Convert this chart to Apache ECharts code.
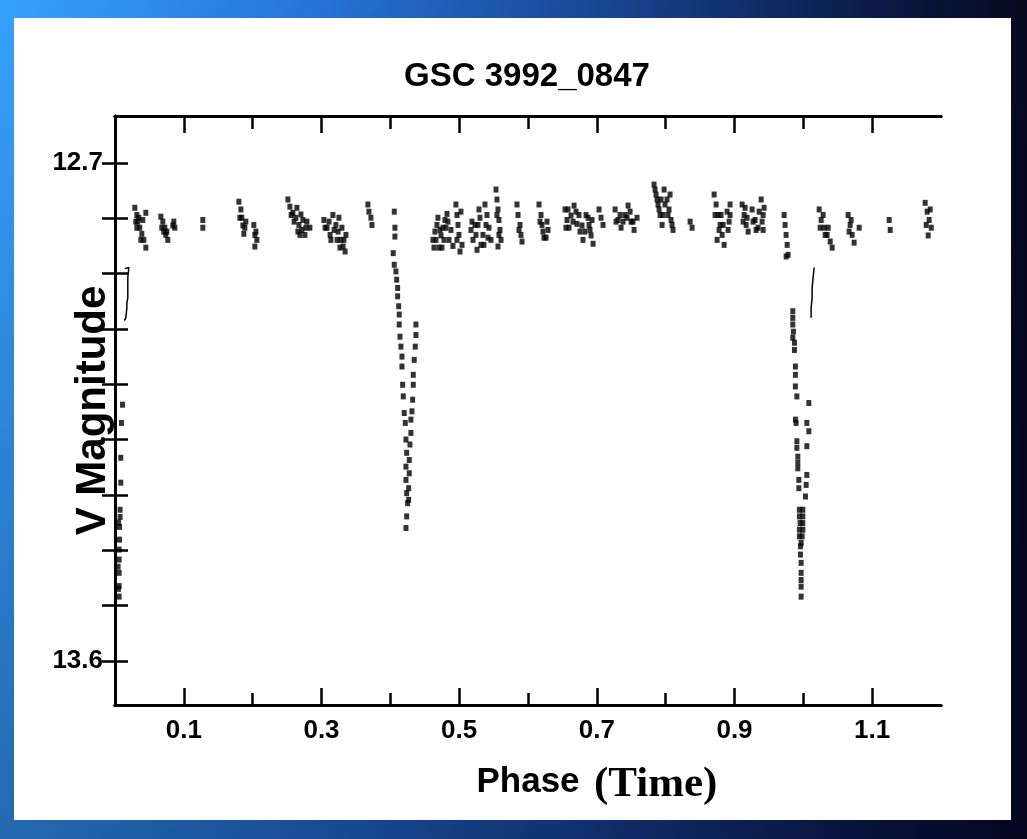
<!DOCTYPE html>
<html>
<head>
<meta charset="utf-8">
<title>GSC 3992_0847</title>
<script src="https://cdn.jsdelivr.net/npm/echarts@6/dist/echarts.min.js"></script>
<style>
  html, body { margin: 0; padding: 0; }
  body {
    width: 1027px; height: 839px; overflow: hidden; position: relative;
    background:
      linear-gradient(to bottom, rgba(0,0,20,0) 0%, rgba(0,0,30,0.35) 100%),
      linear-gradient(to right, #36a2ff 0%, #2674da 30%, #18438f 60%, #0b1b46 85%, #050a1e 100%);
  }
  #panel { position: absolute; left: 14px; top: 18px; width: 997px; height: 802px; background: #fff; }
  #main { position: absolute; left: 0; top: 0; width: 1027px; height: 839px; }
</style>
</head>
<body>
<div id="panel"></div>
<div id="main"></div>
<script>
// tick positions / labels
var phaseLabels = [0.1, 0.3, 0.5, 0.7, 0.9, 1.1];
var phaseMinor = [0.2, 0.4, 0.6, 0.8, 1.0];
var magTicks = [12.7, 12.8, 12.9, 13.0, 13.1, 13.2, 13.3, 13.4, 13.5, 13.6];
var magLabels = [12.7, 13.6];

// out-of-eclipse observations [phase, V mag]
var baseline = [
  [0.0288,12.781],[0.0317,12.794],[0.0331,12.806],[0.0360,12.817],[0.0390,12.828],[0.0419,12.839],[0.0448,12.853],[0.0404,12.803],[0.0448,12.790],[0.0346,12.799],
  [0.0302,12.806],[0.0375,12.839],[0.0317,12.817],
  [0.0666,12.797],[0.0695,12.806],[0.0724,12.817],[0.0738,12.830],[0.0767,12.839],[0.0840,12.813],[0.0869,12.817],[0.0709,12.824],
  [0.0680,12.817],[0.0753,12.824],[0.0855,12.806],
  [0.1276,12.803],[0.1276,12.817],
  [0.1800,12.770],[0.1829,12.784],[0.1843,12.799],[0.1858,12.813],[0.1872,12.828],[0.1901,12.806],[0.2017,12.812],[0.2047,12.824],[0.2061,12.839],[0.2032,12.851],
  [0.1814,12.799],[0.1887,12.817],[0.2032,12.830],
  [0.2512,12.766],[0.2541,12.779],[0.2584,12.790],[0.2628,12.799],[0.2672,12.812],[0.2715,12.821],[0.2759,12.830],[0.2701,12.793],[0.2788,12.806],[0.2831,12.817],[0.2657,12.824],
  [0.2559,12.794],[0.2602,12.806],[0.2643,12.781],[0.2730,12.803],[0.2774,12.817],[0.2686,12.830],
  [0.3035,12.803],[0.3081,12.817],[0.3125,12.830],[0.3166,12.794],[0.3209,12.812],[0.3241,12.824],[0.3282,12.839],[0.3314,12.851],[0.3343,12.860],[0.3253,12.799],[0.3355,12.830],[0.3137,12.839],
  [0.3052,12.817],[0.3110,12.806],[0.3183,12.821],[0.3227,12.839],[0.3297,12.817],[0.3326,12.839],[0.3268,12.853],
  [0.3674,12.775],[0.3689,12.788],[0.3718,12.799],[0.3733,12.812],
  [0.4619,12.839],[0.4648,12.824],[0.4677,12.812],[0.4706,12.853],[0.4736,12.831],[0.4765,12.817],[0.4794,12.803],[0.4823,12.792],[0.4852,12.839],[0.4881,12.821],[0.4910,12.850],[0.4692,12.799],
  [0.4634,12.853],[0.4663,12.839],[0.4721,12.821],[0.4779,12.839],[0.4808,12.817],[0.4837,12.806],[0.4750,12.853],
  [0.4953,12.775],[0.4968,12.794],[0.4983,12.812],[0.4997,12.830],[0.5026,12.788],[0.5041,12.848],[0.5012,12.860],[0.4968,12.839],
  [0.5172,12.821],[0.5201,12.839],[0.5230,12.812],[0.5259,12.857],[0.5302,12.799],[0.5346,12.830],[0.5375,12.775],[0.5404,12.794],[0.5433,12.817],[0.5462,12.839],[0.5360,12.848],[0.5288,12.784],
  [0.5186,12.806],[0.5244,12.830],[0.5273,12.812],[0.5317,12.848],[0.5390,12.812],[0.5419,12.835],
  [0.5535,12.748],[0.5549,12.766],[0.5564,12.784],[0.5578,12.803],[0.5593,12.821],[0.5608,12.839],[0.5564,12.851],[0.5549,12.794],[0.5578,12.830],
  [0.5840,12.775],[0.5855,12.794],[0.5884,12.812],[0.5898,12.830],[0.5913,12.842],[0.5869,12.821],
  [0.6160,12.775],[0.6189,12.794],[0.6203,12.812],[0.6218,12.824],[0.6262,12.835],[0.6291,12.821],[0.6174,12.806],[0.6232,12.835],[0.6276,12.806],
  [0.6538,12.784],[0.6567,12.803],[0.6596,12.817],[0.6625,12.795],[0.6669,12.777],[0.6712,12.810],[0.6756,12.824],[0.6799,12.839],[0.6843,12.794],[0.6887,12.812],[0.6916,12.831],[0.6945,12.846],[0.6698,12.788],
  [0.6552,12.817],[0.6581,12.784],[0.6654,12.806],[0.6741,12.794],[0.6785,12.813],[0.6828,12.824],[0.6872,12.799],[0.6901,12.821],[0.6930,12.803],
  [0.7032,12.784],[0.7061,12.799],[0.7090,12.812],
  [0.7265,12.784],[0.7308,12.803],[0.7352,12.817],[0.7410,12.794],[0.7454,12.777],[0.7497,12.806],[0.7541,12.821],[0.7584,12.799],
  [0.7279,12.806],[0.7337,12.794],[0.7381,12.806],[0.7439,12.799],[0.7483,12.788],[0.7526,12.806],
  [0.7831,12.739],[0.7860,12.757],[0.7889,12.775],[0.7919,12.794],[0.7948,12.812],[0.7977,12.748],[0.8020,12.766],[0.8049,12.784],[0.8078,12.803],[0.8107,12.821],[0.7933,12.766],
  [0.7846,12.748],[0.7875,12.766],[0.7904,12.784],[0.7962,12.794],[0.7991,12.775],[0.8035,12.794],[0.8064,12.757],[0.8093,12.812],
  [0.8355,12.806],[0.8384,12.817],
  [0.8704,12.757],[0.8733,12.775],[0.8762,12.794],[0.8791,12.812],[0.8820,12.830],[0.8849,12.848],[0.8892,12.788],[0.8922,12.806],[0.8747,12.839],[0.8936,12.775],
  [0.8718,12.794],[0.8776,12.821],[0.8805,12.794],[0.8835,12.812],[0.8907,12.821],[0.8936,12.794],
  [0.9110,12.775],[0.9140,12.794],[0.9169,12.812],[0.9198,12.824],[0.9256,12.784],[0.9299,12.803],[0.9343,12.817],[0.9387,12.766],[0.9416,12.794],[0.9416,12.821],
  [0.9125,12.806],[0.9154,12.781],[0.9183,12.799],[0.9270,12.806],[0.9314,12.821],[0.9358,12.788],[0.9401,12.806],[0.9430,12.781],
  [0.9721,12.794],[0.9735,12.812],[0.9750,12.830],[0.9765,12.848],[0.9779,12.866],
  [1.0230,12.784],[1.0259,12.803],[1.0302,12.817],[1.0346,12.830],[1.0390,12.842],[1.0419,12.853],[1.0288,12.794],[1.0244,12.817],[1.0317,12.830],[1.0361,12.817],
  [1.0651,12.794],[1.0680,12.812],[1.0709,12.830],[1.0738,12.844],[1.0811,12.817],[1.0665,12.824],[1.0694,12.803],
  [1.1247,12.803],[1.1262,12.821],
  [1.1770,12.772],[1.1799,12.788],[1.1828,12.803],[1.1858,12.817],[1.1814,12.831],[1.1785,12.812],[1.1843,12.784]
];

// primary minimum near phase 0.42
var primaryIn = [
  [0.4057,12.788],[0.4067,12.817],[0.4067,12.833],[0.4042,12.863],[0.4057,12.884],[0.4081,12.896],[0.4092,12.911],[0.4106,12.926],[0.4106,12.941],[0.4121,12.959],
  [0.4129,12.974],[0.4129,12.992],[0.4140,13.014],[0.4154,13.032],[0.4169,13.050],[0.4169,13.068],[0.4179,13.101],[0.4188,13.122],[0.4202,13.152],[0.4217,13.170],
  [0.4227,13.200],[0.4237,13.224],[0.4227,13.249],[0.4227,13.273],[0.4237,13.297],[0.4251,13.315],[0.4237,13.339],[0.4227,13.360]
];
var primaryOut = [
  [0.4372,12.992],[0.4372,13.011],[0.4362,13.032],[0.4347,13.056],[0.4333,13.083],[0.4333,13.101],[0.4324,13.128],[0.4314,13.149],
  [0.4299,13.164],[0.4299,13.188],[0.4285,13.209],[0.4275,13.237],[0.4275,13.261],[0.4266,13.288],[0.4266,13.309]
];

// deeper minimum near phase 1.0
var secondaryIn = [
  [0.9750,12.869],[0.9847,12.968],[0.9847,12.980],[0.9847,12.992],[0.9856,13.005],[0.9847,13.016],[0.9871,13.025],[0.9871,13.038],[0.9885,13.068],[0.9885,13.083],
  [0.9885,13.104],[0.9906,13.122],[0.9885,13.164],[0.9895,13.170],[0.9906,13.203],[0.9906,13.215],[0.9920,13.231],[0.9920,13.242],[0.9920,13.252],[0.9935,13.273],
  [0.9935,13.288],[0.9943,13.327],[0.9943,13.339],[0.9953,13.351],[0.9943,13.363],[0.9943,13.375],[0.9958,13.393],[0.9958,13.408],[0.9968,13.423],[0.9968,13.441],
  [0.9968,13.454],[0.9968,13.466],[0.9968,13.484]
];
var secondaryOut = [
  [1.0080,13.134],[1.0051,13.170],[1.0080,13.185],[1.0051,13.212],[1.0051,13.264],[1.0041,13.282],[1.0031,13.303],
  [0.9993,13.327],[0.9993,13.339],[0.9993,13.351],[0.9993,13.363],[0.9983,13.375],[0.9968,13.387]
];
var secondaryTrace = [
  [1.0157,12.889],[1.0150,12.898],[1.0142,12.907],[1.0135,12.916],[1.0128,12.925],[1.0128,12.934],[1.0128,12.944],[1.0120,12.953],[1.0113,12.962],[1.0113,12.971],[1.0113,12.980]
];

// egress of the same minimum at phase 0
var startTrail = [
  [0.0109,13.137],[0.0094,13.170],[0.0084,13.233],[0.0084,13.278],[0.0074,13.327],[0.0074,13.340],[0.0065,13.358],[0.0065,13.381],
  [0.0060,13.399],[0.0060,13.417],[0.0060,13.441],[0.0060,13.465],[0.0060,13.484],[0.0050,13.350],[0.0045,13.430],[0.0050,13.470]
];
var startTrace = [
  [0.0143,12.891],[0.0201,12.889],[0.0194,12.898],[0.0186,12.907],[0.0186,12.916],[0.0186,12.925],[0.0186,12.934],[0.0186,12.944],
  [0.0172,12.953],[0.0172,12.962],[0.0165,12.971],[0.0157,12.980],[0.0135,12.985]
];

var sans = "'Liberation Sans', Arial, Helvetica, sans-serif";

function xAx(pos, ticks, len, extra) {
    var a = {
        type: 'value', position: pos, min: 0, max: 1.2,
        axisLine: { show: true, lineStyle: { color: '#000', width: 3 } },
        axisTick: { show: true, inside: true, length: len, customValues: ticks, lineStyle: { color: '#000', width: 2.5 } },
        axisLabel: { show: false },
        splitLine: { show: false }
    };
    return Object.assign(a, extra || {});
}
function yAx(pos, extra) {
    var a = {
        type: 'value', position: pos, min: 12.615, max: 13.68, inverse: true,
        axisLine: { show: true, lineStyle: { color: '#000', width: 3 } },
        axisTick: { show: true, inside: true, length: 13, customValues: magTicks, lineStyle: { color: '#000', width: 2.5 } },
        axisLabel: { show: false },
        splitLine: { show: false }
    };
    return Object.assign(a, extra || {});
}

var chart = echarts.init(document.getElementById('main'));
var dot = { symbol: 'rect', symbolSize: [5, 6], itemStyle: { color: '#000' } };

var option = {
    animation: false,
    title: [
        { text: 'GSC 3992_0847', left: 527, top: 60, textAlign: 'center', padding: 0,
          textStyle: { fontFamily: sans, fontWeight: 'bold', fontSize: 33, color: '#000' } },
        { text: '(Time)', left: 594, top: 763, padding: 0,
          textStyle: { fontFamily: "'Liberation Serif', 'Times New Roman', serif", fontWeight: 'bold', fontSize: 43, color: '#000' } }
    ],
    grid: { left: 115, right: 86, top: 116, bottom: 134, outerBoundsMode: 'none' },
    xAxis: [
        xAx('bottom', phaseMinor, 12, {
            name: 'Phase', nameLocation: 'middle', nameGap: 60, nameMoveOverlap: false,
            nameTextStyle: { fontFamily: sans, fontWeight: 'bold', fontSize: 35, color: '#000' },
            axisLabel: { show: true, customValues: phaseLabels, margin: 13,
                formatter: function (v) { return v.toFixed(1); },
                fontFamily: sans, fontWeight: 'bold', fontSize: 26, color: '#000' }
        }),
        xAx('bottom', phaseLabels, 17),
        xAx('top', phaseMinor, 13),
        xAx('top', phaseLabels, 17)
    ],
    yAxis: [
        yAx('left', {
            name: 'V Magnitude', nameLocation: 'middle', nameGap: 1, nameRotate: 90, nameMoveOverlap: false,
            nameTextStyle: { fontFamily: sans, fontWeight: 'bold', fontSize: 42, color: '#000' },
            axisLabel: { show: true, customValues: magLabels, margin: 12,
                formatter: function (v) { return v.toFixed(1); },
                fontFamily: sans, fontWeight: 'bold', fontSize: 26, color: '#000' }
        }),
        yAx('right')
    ],
    series: [
        Object.assign({ name: 'baseline', type: 'scatter', data: baseline }, dot),
        Object.assign({ name: 'primary ingress', type: 'scatter', data: primaryIn }, dot),
        Object.assign({ name: 'primary egress', type: 'scatter', data: primaryOut }, dot),
        Object.assign({ name: 'secondary ingress', type: 'scatter', data: secondaryIn }, dot),
        Object.assign({ name: 'secondary egress', type: 'scatter', data: secondaryOut }, dot),
        Object.assign({ name: 'start trail', type: 'scatter', data: startTrail }, dot),
        { name: 'start trace', type: 'line', data: startTrace, showSymbol: false,
          lineStyle: { color: '#000', width: 1.5 } },
        { name: 'secondary trace', type: 'line', data: secondaryTrace, showSymbol: false,
          lineStyle: { color: '#000', width: 1.5 } }
    ]
};
chart.setOption(option);
</script>
</body>
</html>
